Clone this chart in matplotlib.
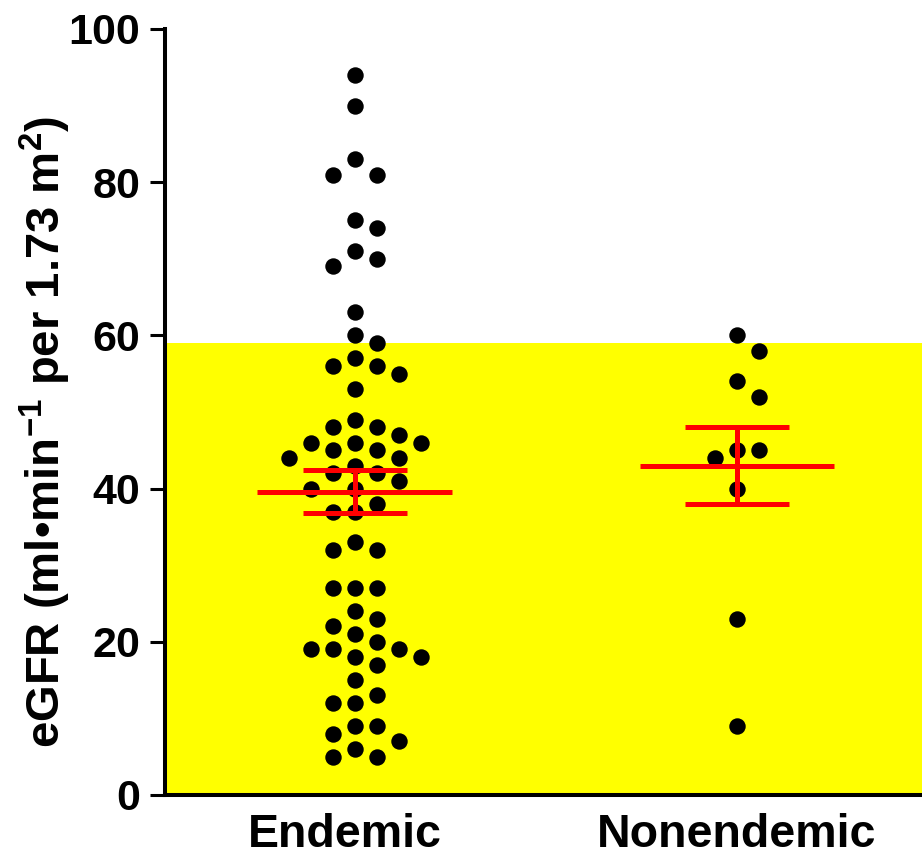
import numpy as np
import matplotlib
matplotlib.use("Agg")
import matplotlib.pyplot as plt
from matplotlib.transforms import ScaledTranslation

plt.rcParams['font.family'] = ['Liberation Sans', 'DejaVu Sans']
plt.rcParams['mathtext.fontset'] = 'custom'
plt.rcParams['mathtext.rm'] = 'Liberation Sans:bold'
plt.rcParams['mathtext.bf'] = 'Liberation Sans:bold'
plt.rcParams['mathtext.default'] = 'bf'

categories = ["Endemic", "Nonendemic"]
endemic = [94, 90, 83, 81, 81, 75, 74, 71, 70, 69, 63, 60, 59, 57, 56, 56, 55, 53,
           49, 48, 48, 47, 46, 46, 46, 45, 45, 44, 44, 43, 42, 42, 41, 40, 40, 38,
           37, 37, 33, 32, 32, 27, 27, 27, 24, 23, 22, 21, 20, 19, 19, 19, 18, 18,
           17, 15, 13, 12, 12, 9, 9, 8, 7, 6, 5, 5]
nonendemic = [60, 58, 54, 52, 45, 45, 44, 40, 23, 9]
threshold = 59
yticks = [0, 20, 40, 60, 80, 100]

W, H = 922, 859
fig = plt.figure(figsize=(W / 100, H / 100), dpi=100)
ax = fig.add_axes([165 / W, 64 / H, (W - 165) / W, 766 / H])
ax.set_xlim(-0.497, 1.484)
ax.set_ylim(0, 100)

ax.axhspan(0, threshold, color='#FFFF00', zorder=0, lw=0)

def swarm(values, xc, step_px=11.0, min_d=19.0):
    fig.canvas.draw()
    pts = ax.transData.transform([(xc, v) for v in values])
    placed = []
    for (px, py) in pts:
        for k in range(0, 40):
            cands = [0] if k == 0 else [k, -k]
            found = None
            for c in cands:
                x = px + c * step_px
                if all((x - qx) ** 2 + (py - qy) ** 2 >= min_d ** 2 for qx, qy in placed):
                    found = x
                    break
            if found is not None:
                placed.append((found, py))
                break
    data = ax.transData.inverted().transform(placed)
    return data[:, 0], data[:, 1]

for i, vals in enumerate([endemic, nonendemic]):
    xs, ys = swarm(vals, i)
    ax.scatter(xs, ys, s=140, color='black', zorder=3, lw=0)
    arr = np.array(vals, float)
    m = arr.mean()
    sem = arr.std(ddof=1) / np.sqrt(len(arr))
    kw = dict(color='#FF0000', lw=3.6, zorder=4, solid_capstyle='butt')
    ax.plot([i - 0.255, i + 0.255], [m, m], **kw)
    ax.plot([i - 0.135, i + 0.135], [m + sem, m + sem], **kw)
    ax.plot([i - 0.135, i + 0.135], [m - sem, m - sem], **kw)
    ax.plot([i, i], [m - sem, m + sem], **kw)

for s in ['top', 'right']:
    ax.spines[s].set_visible(False)
for s in ['left', 'bottom']:
    ax.spines[s].set_linewidth(2.9)

ax.set_yticks(yticks)
ax.set_yticklabels([str(t) for t in yticks])
ax.set_xticks([0, 1])
ax.set_xticklabels(categories)
ax.tick_params(axis='y', length=11, width=2.2, pad=7, labelsize=31)
ax.tick_params(axis='x', length=0, pad=13, labelsize=33.5)
for lab in ax.get_yticklabels() + ax.get_xticklabels():
    lab.set_fontweight('bold')
xl = ax.get_xticklabels()
xl[0].set_transform(xl[0].get_transform() + ScaledTranslation(-0.1, 0, fig.dpi_scale_trans))

ax.set_ylabel('eGFR (ml•min$^{-1}$ per 1.73 m$^{2}$)', fontsize=34,
              fontweight='bold', va='center')
ax.yaxis.set_label_coords(-0.158, 0.474)

fig.savefig('out.png', dpi=100)
